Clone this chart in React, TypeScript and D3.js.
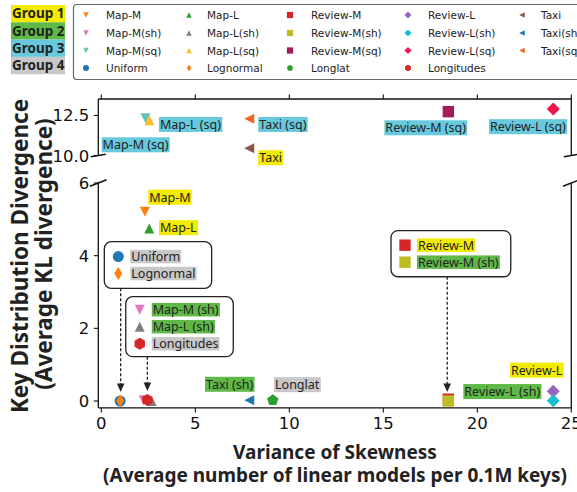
import React, { useEffect, useRef } from 'react';
import * as d3 from 'd3';

// ---------------- data ----------------
const datasets = [
  'Map-M', 'Map-L', 'Review-M', 'Review-L', 'Taxi',
  'Map-M(sh)', 'Map-L(sh)', 'Review-M(sh)', 'Review-L(sh)', 'Taxi(sh)',
  'Map-M(sq)', 'Map-L(sq)', 'Review-M(sq)', 'Review-L(sq)', 'Taxi(sq)',
  'Uniform', 'Lognormal', 'Longlat', 'Longitudes',
];
const skewVariance = [
  2.32, 2.55, 18.46, 24.04, 7.87,
  2.25, 2.68, 18.46, 24.04, 7.87,
  2.35, 2.56, 18.46, 24.04, 7.87,
  1.0, 1.0, 9.12, 2.45,
];
const klDivergence = [
  5.21, 4.75, 0.05, 0.27, 10.45,
  0.02, 0.0, 0.0, 0.01, 0.02,
  12.33, 12.2, 12.74, 12.9, 12.3,
  0.0, 0.01, 0.02, 0.03,
];
const markerShapes = [
  'v', '^', 's', 'D', '<',
  'v', '^', 's', 'D', '<',
  'v', '^', 's', 'D', '<',
  'o', 'd', 'p', 'h',
];
const markerColors = [
  '#ff7f0e', '#2ca02c', '#d62728', '#9467bd', '#8c564b',
  '#e377c2', '#7f7f7f', '#bcbd22', '#17becf', '#1f77b4',
  '#66c2b4', '#fbbf2d', '#a51c5c', '#f0134d', '#f26522',
  '#1f77b4', '#ff7f0e', '#2ca02c', '#d62728',
];
// legend (column-major order)
const legendColumns = [
  [0, 5, 10, 15],
  [1, 6, 11, 16],
  [2, 7, 12, 17],
  [3, 8, 13, 18],
  [4, 9, 14],
];
const groupNames = ['Group 1', 'Group 2', 'Group 3', 'Group 4'];
const groupColors = ['#f3ec00', '#5fb947', '#68c9dd', '#c8c8c8'];

const xTicks = [0, 5, 10, 15, 20, 25];
const bottomYTicks = [0, 2, 4, 6];
const topYTicks = [10, 12.5];
const topYTickLabels = ['10.0', '12.5'];

// free labels: text, group, x (data, left edge), y (data, centre), panel
const labelTexts = ['Map-L (sq)', 'Map-M (sq)', 'Taxi (sq)', 'Taxi', 'Review-M (sq)', 'Review-L (sq)',
  'Map-M', 'Map-L', 'Review-L', 'Review-L (sh)', 'Taxi (sh)', 'Longlat'];
const labelGroups = [2, 2, 2, 0, 2, 2, 0, 0, 0, 1, 1, 3];
const labelX = [3.12, 0.07, 8.40, 8.40, 15.11, 20.68, 2.55, 3.12, 21.79, 19.31, 5.57, 9.24];
const labelY = [11.94, 10.67, 11.94, 9.86, 11.73, 11.8, 5.61, 4.77, 0.85, 0.26, 0.46, 0.45];
const labelPanel = ['top', 'top', 'top', 'top', 'top', 'top', 'bot', 'bot', 'bot', 'bot', 'bot', 'bot'];

// callout boxes (bottom panel, data coords)
const calloutBoxX0 = [0.16, 1.3, 15.41];
const calloutBoxX1 = [5.87, 7.02, 21.78];
const calloutBoxYTop = [4.385, 2.87, 4.69];
const calloutBoxYBottom = [3.10, 1.22, 3.42];
const calloutItems = [[15, 16], [5, 6, 18], [2, 7]];
const calloutTexts = [['Uniform', 'Lognormal'], ['Map-M (sh)', 'Map-L (sh)', 'Longitudes'], ['Review-M', 'Review-M (sh)']];
const calloutGroups = [[3, 3], [1, 1, 3], [0, 1]];
const calloutArrowX = [1.03, 2.45, 18.4];
const calloutTarget = [15, 18, 7];

// ---------------- helpers ----------------
function shapePath(shape: string, k = 1): string {
  const poly = (pts: number[][]) => 'M' + pts.map((p) => `${p[0] * k},${p[1] * k}`).join('L') + 'Z';
  const reg = (n: number, r: number) => {
    const pts: number[][] = [];
    for (let i = 0; i < n; i++) {
      const a = -Math.PI / 2 + (2 * Math.PI * i) / n;
      pts.push([r * Math.cos(a), r * Math.sin(a)]);
    }
    return poly(pts);
  };
  switch (shape) {
    case 'v': return poly([[-5, -5], [5, -5], [0, 5]]);
    case '^': return poly([[0, -5], [5, 5], [-5, 5]]);
    case '<': return poly([[-5, 0], [5, -5], [5, 5]]);
    case 's': return poly([[-5.7, -5.7], [5.7, -5.7], [5.7, 5.7], [-5.7, 5.7]]);
    case 'D': return poly([[0, -6.5], [6.5, 0], [0, 6.5], [-6.5, 0]]);
    case 'd': return poly([[0, -6.5], [4, 0], [0, 6.5], [-4, 0]]);
    case 'p': return reg(5, 6);
    case 'h': return reg(6, 6);
    case 'o':
    default:
      return d3.symbol(d3.symbolCircle, Math.PI * 5.5 * 5.5 * k * k)() as string;
  }
}

const LABEL_FONT = "'Noto Sans', 'Open Sans', sans-serif";
const TICK_FONT = "'DejaVu Sans', sans-serif";

export default function App() {
  const ref = useRef<SVGSVGElement>(null);

  useEffect(() => {
    const svg = d3.select(ref.current as SVGSVGElement);
    svg.selectAll('*').remove();

    const x = d3.scaleLinear().domain([-0.16, 25]).range([98.3, 571.3]);
    const yTop = d3.scaleLinear().domain([10, 13.53]).range([155.5, 99]);
    const yBot = d3.scaleLinear().domain([-0.19, 6]).range([407.9, 183]);
    const [xl, xr] = x.range();

    const labelWithBg = (
      g: d3.Selection<SVGGElement, unknown, null, undefined>,
      text: string, left: number, cy: number, color: string, fs: number, h: number,
    ) => {
      const t = g.append('text')
        .attr('x', left)
        .attr('y', cy + fs * 0.36)
        .style('font-family', LABEL_FONT)
        .style('font-size', `${fs}px`)
        .attr('fill', '#222')
        .text(text);
      const bb = (t.node() as SVGTextElement).getBBox();
      g.insert('rect', () => t.node() as any)
        .attr('x', bb.x - 1)
        .attr('y', cy - h / 2)
        .attr('width', bb.width + 2)
        .attr('height', h)
        .attr('fill', color);
    };

    // ---------- spines ----------
    const axes = svg.append('g').attr('stroke', '#111').attr('stroke-width', 1.3).attr('fill', 'none');
    axes.append('line').attr('x1', xl).attr('x2', xr).attr('y1', yTop.range()[1]).attr('y2', yTop.range()[1]);
    axes.append('line').attr('x1', xl).attr('x2', xl).attr('y1', yTop.range()[1]).attr('y2', yTop.range()[0]);
    axes.append('line').attr('x1', xr).attr('x2', xr).attr('y1', yTop.range()[1]).attr('y2', yTop.range()[0]);
    axes.append('line').attr('x1', xl).attr('x2', xr).attr('y1', yBot.range()[0]).attr('y2', yBot.range()[0]);
    axes.append('line').attr('x1', xl).attr('x2', xl).attr('y1', yBot.range()[1]).attr('y2', yBot.range()[0]);
    axes.append('line').attr('x1', xr).attr('x2', xr).attr('y1', yBot.range()[1]).attr('y2', yBot.range()[0]);
    // break marks
    const brk = svg.append('g').attr('stroke', '#111').attr('stroke-width', 1.5);
    [xl, xr].forEach((sx) => {
      const ty = yTop.range()[0];
      brk.append('line').attr('x1', sx - 7.5).attr('y1', ty + 1.2).attr('x2', sx + 7.5).attr('y2', ty - 1.2);
      const by = yBot.range()[1];
      brk.append('line').attr('x1', sx - 8.3).attr('y1', by + 3.3).attr('x2', sx + 8.3).attr('y2', by - 3.3);
    });

    // ---------- ticks ----------
    const ticks = svg.append('g').attr('stroke', '#111').attr('stroke-width', 1.1);
    xTicks.forEach((t) => {
      ticks.append('line').attr('x1', x(t)).attr('x2', x(t)).attr('y1', yBot.range()[0]).attr('y2', yBot.range()[0] + 4.5);
      ticks.append('line').attr('x1', x(t)).attr('x2', x(t)).attr('y1', yTop.range()[1]).attr('y2', yTop.range()[1] - 4.5);
    });
    bottomYTicks.forEach((t) => {
      ticks.append('line').attr('x1', xl - 4.5).attr('x2', xl).attr('y1', yBot(t)).attr('y2', yBot(t));
    });
    topYTicks.forEach((t) => {
      ticks.append('line').attr('x1', xl - 4.5).attr('x2', xl).attr('y1', yTop(t)).attr('y2', yTop(t));
    });
    const tl = svg.append('g').style('font-family', TICK_FONT).style('font-size', '16.5px').attr('fill', '#111');
    xTicks.forEach((t) => {
      tl.append('text').attr('x', x(t)).attr('y', 429).attr('text-anchor', 'middle').text(String(t));
    });
    bottomYTicks.forEach((t) => {
      tl.append('text').attr('x', xl - 9).attr('y', yBot(t) + 6).attr('text-anchor', 'end').text(String(t));
    });
    topYTicks.forEach((t, i) => {
      tl.append('text').attr('x', xl - 9).attr('y', yTop(t) + 6).attr('text-anchor', 'end').text(topYTickLabels[i]);
    });

    // ---------- axis titles ----------
    const titles = svg.append('g').style('font-family', LABEL_FONT).style('font-weight', 'bold').attr('fill', '#222');
    titles.append('text').attr('x', 335).attr('y', 459).attr('text-anchor', 'middle').style('font-size', '19px').text('Variance of Skewness');
    titles.append('text').attr('x', 335).attr('y', 482).attr('text-anchor', 'middle').style('font-size', '19px').text('(Average number of linear models per 0.1M keys)');
    titles.append('text').attr('transform', 'translate(28,256) rotate(-90)').attr('text-anchor', 'middle').style('font-size', '22.5px').text('Key Distribution Divergence');
    titles.append('text').attr('transform', 'translate(52,254) rotate(-90)').attr('text-anchor', 'middle').style('font-size', '22.5px').text('(Average KL divergence)');

    // ---------- points ----------
    const pts = svg.append('g');
    datasets.forEach((_, i) => {
      const vy = klDivergence[i];
      const py = vy >= 8 ? yTop(vy) : yBot(vy);
      pts.append('path')
        .attr('d', shapePath(markerShapes[i]))
        .attr('transform', `translate(${x(skewVariance[i])},${py})`)
        .attr('fill', markerColors[i]);
    });

    // ---------- free labels ----------
    const lab = svg.append('g');
    labelTexts.forEach((t, i) => {
      const cy = labelPanel[i] === 'top' ? yTop(labelY[i]) : yBot(labelY[i]);
      labelWithBg(lab as any, t, x(labelX[i]), cy, groupColors[labelGroups[i]], 12.5, 15);
    });

    // ---------- callouts ----------
    const co = svg.append('g');
    calloutItems.forEach((items, b) => {
      const bx0 = x(calloutBoxX0[b]);
      const bx1 = x(calloutBoxX1[b]);
      const by0 = yBot(calloutBoxYTop[b]);
      const by1 = yBot(calloutBoxYBottom[b]);
      const ax = x(calloutArrowX[b]);
      const tipY = yBot(klDivergence[calloutTarget[b]]) - 9;
      co.append('line').attr('x1', ax).attr('x2', ax).attr('y1', by1).attr('y2', tipY - 7)
        .attr('stroke', '#222').attr('stroke-width', 1.3).attr('stroke-dasharray', '3,2');
      co.append('path').attr('d', `M${ax},${tipY}L${ax - 3.8},${tipY - 8.5}L${ax + 3.8},${tipY - 8.5}Z`).attr('fill', '#222');
      co.append('rect').attr('x', bx0).attr('y', by0).attr('width', bx1 - bx0).attr('height', by1 - by0)
        .attr('rx', 7).attr('fill', '#fff').attr('stroke', '#222').attr('stroke-width', 1.3);
      const h = by1 - by0;
      const first = by0 + (h - (items.length - 1) * 17) / 2;
      items.forEach((di, k) => {
        const cy = first + k * 17;
        co.append('path').attr('d', shapePath(markerShapes[di], 1))
          .attr('transform', `translate(${bx0 + 14},${cy})`).attr('fill', markerColors[di]);
        labelWithBg(co as any, calloutTexts[b][k], bx0 + 27, cy, groupColors[calloutGroups[b][k]], 12.5, 13.5);
      });
    });

    // ---------- legend ----------
    const lg = svg.append('g');
    lg.append('rect').attr('x', 73.5).attr('y', 4.5).attr('width', 530).attr('height', 75).attr('rx', 3)
      .attr('fill', '#fff').attr('stroke', '#666').attr('stroke-width', 1.2);
    const colMarkerX = [86, 189, 290, 408, 522];
    const colTextX = [106, 207, 311, 428, 541];
    const rowY = [15, 33, 50.5, 68];
    legendColumns.forEach((col, c) => {
      col.forEach((di, r) => {
        lg.append('path').attr('d', shapePath(markerShapes[di], 0.55))
          .attr('transform', `translate(${colMarkerX[c]},${rowY[r]})`).attr('fill', markerColors[di]);
        lg.append('text').attr('x', colTextX[c]).attr('y', rowY[r] + 4)
          .style('font-family', TICK_FONT).style('font-size', '10.5px').attr('fill', '#222').text(datasets[di]);
      });
    });

    // ---------- group key ----------
    const gk = svg.append('g');
    groupNames.forEach((gname, i) => {
      const top = 5 + i * 17.3;
      gk.append('rect').attr('x', 11).attr('y', top).attr('width', 54).attr('height', 17.3).attr('fill', groupColors[i]);
      gk.append('text').attr('x', 12).attr('y', top + 13.2)
        .style('font-family', LABEL_FONT).style('font-weight', 'bold').style('font-size', '13.5px')
        .attr('fill', '#222').text(gname);
    });
  }, []);

  return (
    <svg ref={ref} width={577} height={492}
      style={{ position: 'absolute', left: 0, top: 0, background: '#fff' }} />
  );
}
